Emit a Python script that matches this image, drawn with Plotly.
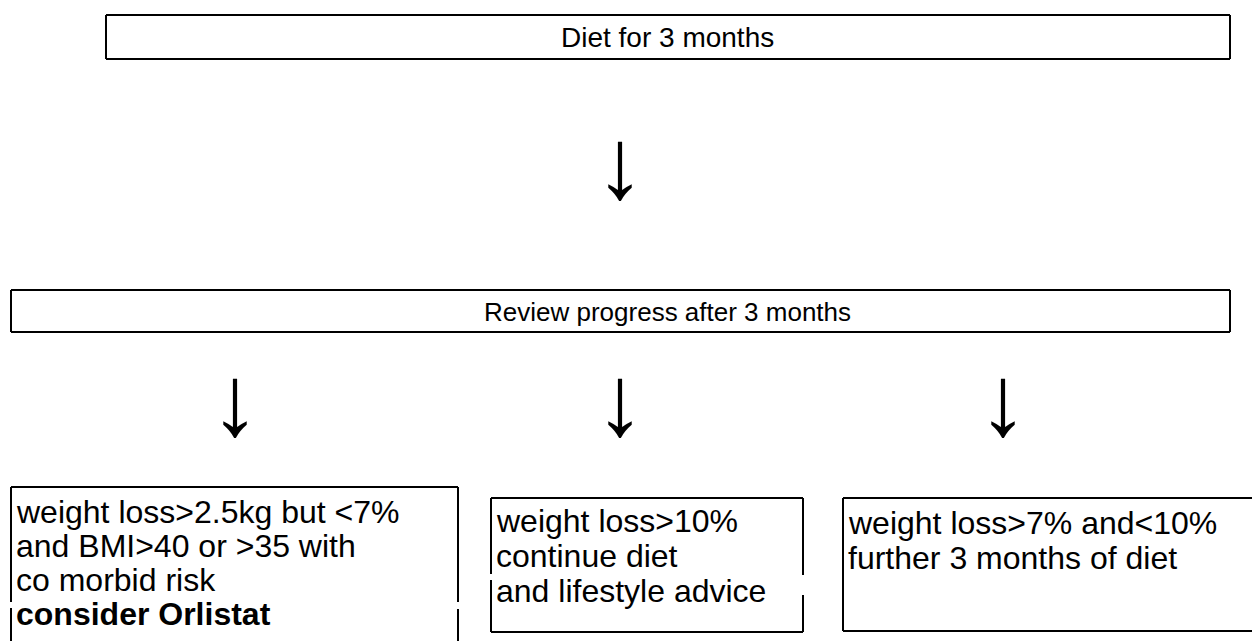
import plotly.graph_objects as go

# ---- content ----
top_step = "Diet for 3 months"
review_step = "Review progress after 3 months"
outcome_left = ["weight loss>2.5kg but <7%", "and BMI>40 or >35 with", "co morbid risk", "<b>consider Orlistat</b>"]
outcome_mid = ["weight loss>10%", "continue diet", "and lifestyle advice"]
outcome_right = ["weight loss>7% and<10%", "further 3 months of diet"]
arrow_glyph = "↓"

W, H = 1252, 641
FONT = "Liberation Sans, Arial, sans-serif"
LW = 2

fig = go.Figure()
shapes = []

def seg(x0, y0, x1, y1):
    shapes.append(dict(type="line", xref="x", yref="y", x0=x0, y0=y0, x1=x1, y1=y1,
                       line=dict(color="black", width=LW)))

def rect(x0, y0, x1, y1):
    seg(x0, y0, x1, y0); seg(x1, y0, x1, y1); seg(x1, y1, x0, y1); seg(x0, y1, x0, y0)

# top boxes
rect(106, 15, 1230, 59)
rect(11, 290, 1230, 332)

# bottom-left box (open at bottom, broken sides)
seg(11, 487, 458, 487)
seg(11, 487, 11, 602); seg(11, 608, 11, 645)
seg(458, 487, 458, 602); seg(458, 609, 458, 645)

# middle box (broken sides)
seg(491, 498, 803, 498)
seg(491, 632, 803, 632)
seg(491, 498, 491, 574); seg(491, 580, 491, 632)
seg(803, 498, 803, 575); seg(803, 595, 803, 632)

# right box (open on right)
seg(843, 498, 1256, 498)
seg(843, 631, 1256, 631)
seg(843, 498, 843, 631)

ann = []
def text(x, y, s, size, anchor="center"):
    ann.append(dict(x=x, y=y, xref="x", yref="y", text=s, showarrow=False,
                    xanchor=anchor, yanchor="middle",
                    font=dict(family=FONT, size=size, color="black")))

text(667, 37, top_step, 28)
text(667, 312, review_step, 26)

for i, s in enumerate(outcome_left):
    text(14, 512 + i * 34, s, 32, "left")
for i, s in enumerate(outcome_mid):
    text(494, 521 + i * 35, s, 32, "left")
for i, s in enumerate(outcome_right):
    text(846, 523 + i * 35, s, 32, "left")

for (x, y) in [(620, 163), (235, 400), (620, 400), (1003, 400)]:
    text(x, y, arrow_glyph, 100)

fig.update_layout(
    width=W, height=H, margin=dict(l=0, r=0, t=0, b=0),
    paper_bgcolor="white", plot_bgcolor="white",
    xaxis=dict(range=[0, W], visible=False, fixedrange=True),
    yaxis=dict(range=[H, 0], visible=False, fixedrange=True),
    shapes=shapes, annotations=ann, showlegend=False,
)
fig.write_html("out.html", config={"displayModeBar": False},
               post_script="document.body.style.margin='0';document.body.style.overflow='hidden';")
